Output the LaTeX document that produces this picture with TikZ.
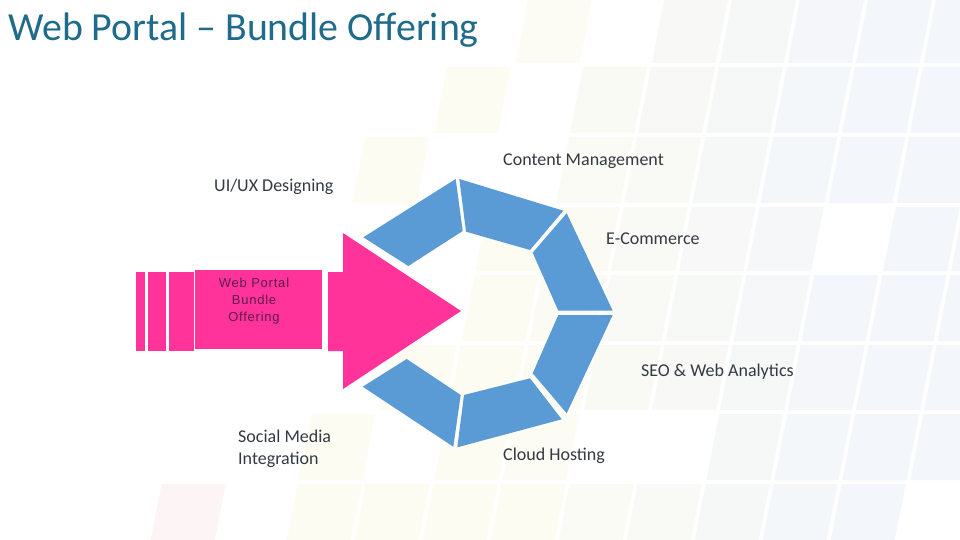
\documentclass[tikz,border=0pt]{standalone}
\usepackage{fontspec}
\setmainfont{Carlito}
\newfontfamily\arialfont[LetterSpace=6]{Liberation Sans}
\definecolor{titleblue}{RGB}{31,107,138}
\definecolor{labelgray}{RGB}{52,58,66}
\definecolor{pinkc}{RGB}{255,51,153}
\definecolor{ringblue}{RGB}{91,155,213}
\definecolor{tilecream}{RGB}{253,252,243}
\definecolor{tileblue}{RGB}{243,246,250}
\definecolor{tilepink}{RGB}{253,245,245}
\definecolor{innertext}{RGB}{95,28,75}
\tikzset{
  seg/.style={fill=ringblue},
  pinkshape/.style={fill=pinkc},
  lbl/.style={anchor=base west, inner sep=0, text=labelgray, font=\fontsize{18}{22}\selectfont},
}
\begin{document}
\begin{tikzpicture}[x=1pt,y=-1pt]
\useasboundingbox (0,0) rectangle (960,540);
\fill[white] (0,0) rectangle (960,540);
\begin{scope}
\clip (0,0) rectangle (960,540);
\foreach \yt/\yb/\ks in {0/63/{-3,-1,0,1,2,3}, 67/133/{-4,-2,-1,0,1,2,3}, 137/203/{-5,-2,-1,0,1,2,3,4}, 207/271/{-3,-2,-1,0,1,3,4}, 275/341/{-3,-2,-1,0,1,2,3,4}, 345/410/{-4,-3,-2,-1,0,1,2,3,4}, 414/480/{-5,-3,-2,1,2,3,4}, 484/545/{-5,-4,-3,-2,-1,0,1,2,3}}{
  \foreach \k in \ks {
    \pgfmathsetmacro\xa{730+68*\k+2}
    \pgfmathsetmacro\xb{730+68*(\k+1)-2}
    \pgfmathsetmacro\xm{(\xa+\xb)/2-0.195*(\yt+\yb)/2}
    \pgfmathsetmacro\p{max(0,min(100,100-(\xm-520)/3.2))}
    \fill[tilecream!\p!tileblue] (\xa-0.195*\yt,\yt) -- (\xb-0.195*\yt,\yt) -- (\xb-0.195*\yb,\yb) -- (\xa-0.195*\yb,\yb) -- cycle;
  }
}
\fill[tilepink] (256-0.195*484,484) -- (320-0.195*484,484) -- (320-0.195*545,545) -- (256-0.195*545,545) -- cycle;
\end{scope}

% title
\node[anchor=base west, inner sep=0, text=titleblue, font=\fontsize{39.8}{47}\selectfont] (title) at (8,41) {Web Portal – Bundle Offering};

% ring segments
\fill[seg] (363.3,237.3) -- (455.7,179) -- (462.7,231) -- (408.3,266) -- cycle;
\fill[seg] (459.3,179) -- (563.3,210.7) -- (530,250) -- (466,231.7) -- cycle;
\fill[seg] (566.7,213.3) -- (612.7,310.7) -- (558.3,310.7) -- (532.7,252.7) -- cycle;
\fill[seg] (612.7,315) -- (566.7,413.3) -- (532.7,373.3) -- (558.3,315) -- cycle;
\fill[seg] (561.7,419.3) -- (457.3,447.3) -- (464,395) -- (530,378.3) -- cycle;
\fill[seg] (453.3,446.7) -- (362.7,386.7) -- (406.7,359) -- (460.7,395) -- cycle;

% arrow
\fill[pinkshape] (136,272) rectangle (145,351);
\fill[pinkshape] (148,272) rectangle (166,351);
\fill[pinkshape] (169,272) rectangle (194,351);
\fill[pinkshape] (195,270) rectangle (322,349);
\fill[pinkshape] (328,272) -- (343,272) -- (343,233) -- (461,311) -- (343,389) -- (343,351) -- (328,351) -- cycle;
\node[anchor=base, inner sep=0, text=innertext, font=\arialfont\fontsize{13}{17}\selectfont] (bundle) at (254,287)
  {\begin{tabular}[t]{@{}c@{}}Web Portal\\Bundle\\Offering\end{tabular}};

% labels
\node[lbl] (content) at (503,166) {Content Management};
\node[lbl] (uiux) at (214,191) {UI/UX Designing};
\node[lbl] (ecom) at (606,244) {E-Commerce};
\node[lbl] (seo) at (641,376) {SEO \& Web Analytics};
\node[lbl] (cloud) at (503,460) {Cloud Hosting};
\node[lbl] (social) at (238,442) {\begin{tabular}[t]{@{}l@{}}Social Media\\Integration\end{tabular}};
\end{tikzpicture}
\end{document}
